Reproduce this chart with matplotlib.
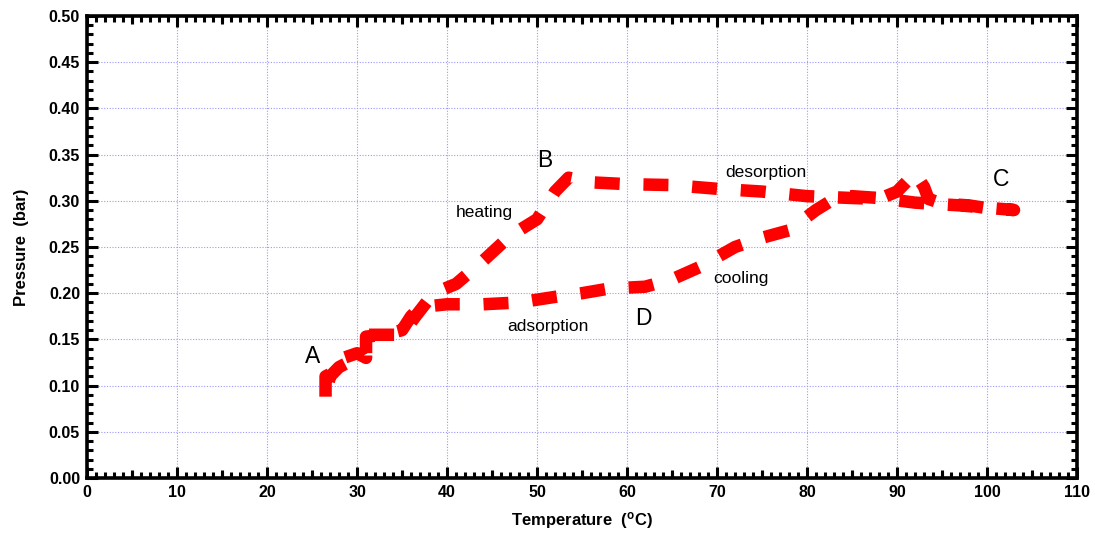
import matplotlib
matplotlib.use("Agg")
import matplotlib.pyplot as plt
from matplotlib.ticker import MultipleLocator

plt.rcParams['font.family'] = ['Liberation Sans', 'DejaVu Sans']
plt.rcParams['mathtext.fontset'] = 'custom'
plt.rcParams['mathtext.rm'] = 'Liberation Sans'
plt.rcParams['mathtext.bf'] = 'Liberation Sans:bold'

# Cycle path A -> B (heating) -> C (desorption) -> D (cooling) -> A (adsorption)
temp = [26.5, 26.5, 27.5, 28.5, 30, 31, 31, 32.5, 35, 36.5, 38.5, 41, 44, 47, 50, 52, 53.5,
        56, 60, 65, 70, 75, 80, 85, 88, 90, 92, 93, 93.5, 95, 98, 100, 103,
        97, 92, 88, 85, 83, 81, 78, 75, 72, 68, 65, 62,
        58, 55, 52, 48, 44, 40, 37, 36, 35, 33, 31, 31, 30, 29, 28, 27, 26.5]
pres = [0.088, 0.11, 0.115, 0.13, 0.135, 0.13, 0.155, 0.155, 0.155, 0.175, 0.2, 0.21, 0.235, 0.262, 0.28, 0.31, 0.325,
        0.32, 0.318, 0.317, 0.313, 0.31, 0.305, 0.303, 0.302, 0.31, 0.33, 0.315, 0.302, 0.297, 0.295, 0.292, 0.29,
        0.295, 0.298, 0.303, 0.305, 0.302, 0.29, 0.268, 0.26, 0.25, 0.228, 0.215, 0.207,
        0.205, 0.2, 0.196, 0.19, 0.188, 0.188, 0.185, 0.175, 0.16, 0.155, 0.153, 0.135, 0.13, 0.125, 0.12, 0.11, 0.09]

point_labels = ['A', 'B', 'C', 'D']
point_x = [25.1, 50.9, 101.6, 61.8]
point_y = [0.132, 0.344, 0.3225, 0.173]

stage_labels = ['heating', 'desorption', 'cooling', 'adsorption']
stage_x = [44.1, 75.4, 72.7, 51.2]
stage_y = [0.287, 0.331, 0.216, 0.164]

fig = plt.figure(figsize=(10.95, 5.42), dpi=100)
ax = fig.add_axes([0.0795, 0.1181, 0.9041, 0.8524])

ax.plot(temp, pres, color='#ff0000', lw=9, dashes=(2.0, 1.9),
        dash_capstyle='butt', solid_capstyle='round', solid_joinstyle='round', zorder=3)

for t, x, y in zip(point_labels, point_x, point_y):
    ax.text(x, y, t, fontsize=16.5, ha='center', va='center', color='black', zorder=4)
for t, x, y in zip(stage_labels, stage_x, stage_y):
    ax.text(x, y, t, fontsize=12.5, ha='center', va='center', color='black', zorder=4)

ax.set_xlim(0, 110)
ax.set_ylim(0, 0.5)
ax.xaxis.set_major_locator(MultipleLocator(10))
ax.xaxis.set_minor_locator(MultipleLocator(1))
ax.yaxis.set_major_locator(MultipleLocator(0.05))
ax.yaxis.set_minor_locator(MultipleLocator(0.01))
ax.xaxis.set_major_formatter(matplotlib.ticker.FormatStrFormatter('%d'))
ax.yaxis.set_major_formatter(matplotlib.ticker.FormatStrFormatter('%.2f'))

ax.grid(True, which='major', color='#9999ff', linestyle=(0, (1, 1.5)), linewidth=0.8, zorder=0)
ax.set_axisbelow(True)

ax.tick_params(which='both', direction='in', top=True, right=True, width=2.2)
ax.tick_params(which='major', length=8, labelsize=11.5, pad=5)
ax.tick_params(which='minor', length=4)
for lab in ax.get_xticklabels() + ax.get_yticklabels():
    lab.set_fontweight('bold')

for s in ax.spines.values():
    s.set_linewidth(2.6)

# medium ticks at x = 5, 15, ...
for loc in ['bottom', 'top']:
    sec = ax.secondary_xaxis(loc)
    sec.set_xticks([5 + 10 * i for i in range(11)])
    sec.tick_params(direction='in', length=6, width=2.2, labelbottom=False, labeltop=False)
    sec.spines[loc].set_visible(False)

ax.set_xlabel('Temperature  ($\\mathbf{^{o}}$C)', fontsize=12, fontweight='bold', labelpad=7)
ax.set_ylabel('Pressure  (bar)', fontsize=12, fontweight='bold', labelpad=14)

fig.savefig('out.png', dpi=100)
